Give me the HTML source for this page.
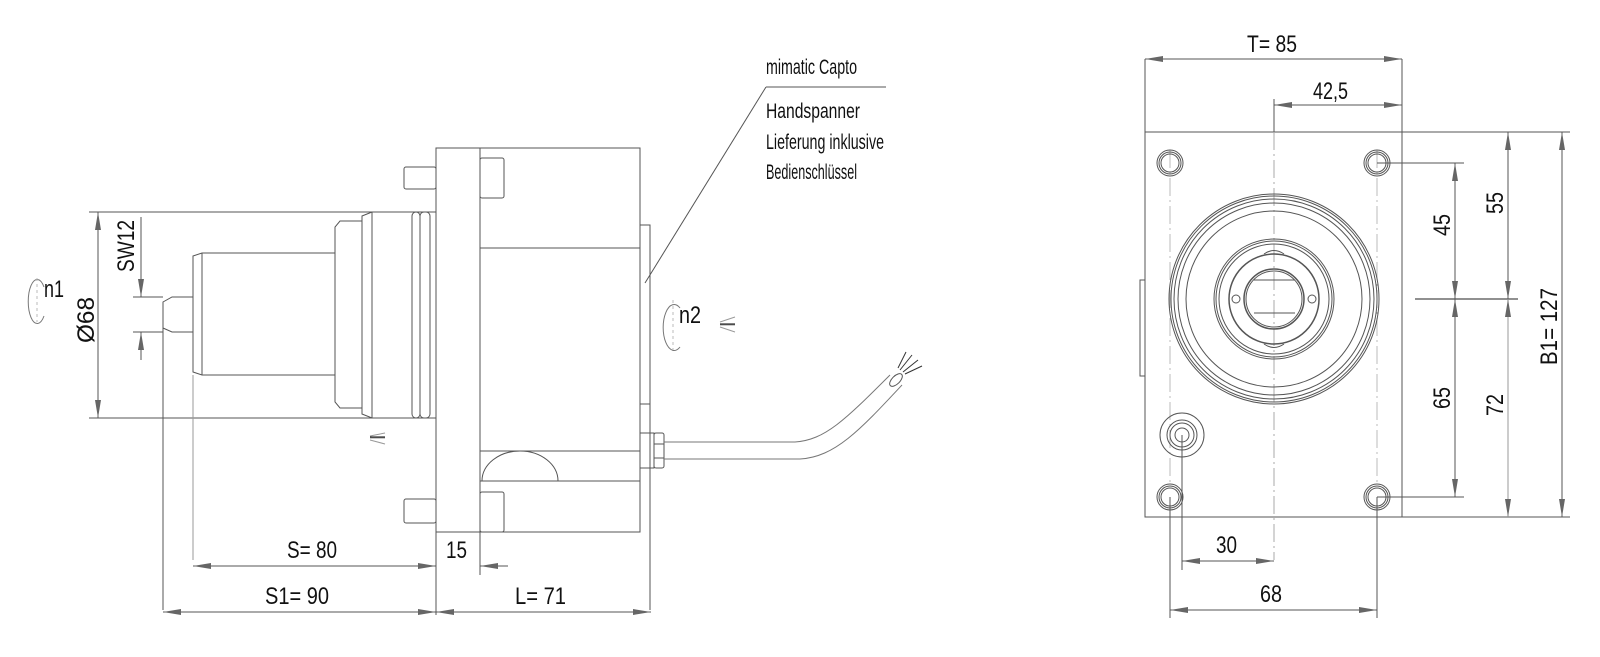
<!DOCTYPE html>
<html><head><meta charset="utf-8"><style>html,body{margin:0;padding:0;background:#fff}svg{display:block}</style></head>
<body>
<svg width="1600" height="657" viewBox="0 0 1600 657" xmlns="http://www.w3.org/2000/svg" font-family="Liberation Sans, sans-serif" fill="none" stroke="#555" stroke-width="1">
<defs>
<marker id="a" viewBox="0 0 18 6" refX="18" refY="3" markerWidth="18" markerHeight="6" markerUnits="userSpaceOnUse" orient="auto-start-reverse"><path d="M0,0 L18,3 L0,6z" fill="#666" stroke="none"/></marker>
</defs>
<g>
<rect x="436" y="148" width="204" height="384"/>
<line x1="480" y1="148" x2="480" y2="532"/>
<line x1="480" y1="248" x2="640" y2="248"/>
<line x1="480" y1="451" x2="640" y2="451"/>
<line x1="480" y1="481" x2="640" y2="481"/>
<path d="M482,481 A38,30 0 0 1 558,481"/>
<rect x="480" y="158" width="24" height="40" rx="2"/>
<rect x="480" y="492" width="24" height="40" rx="2"/>
<rect x="404" y="167" width="32" height="22" rx="2"/>
<rect x="404" y="499" width="32" height="24" rx="2"/>
<rect x="640" y="225" width="10" height="179"/>
<line x1="650" y1="225" x2="650" y2="610"/>
<path d="M436,212 L372,212 L362,216 L362,414 L372,418 L436,418"/>
<line x1="372" y1="212" x2="372" y2="418"/>
<rect x="412" y="212" width="8" height="206" rx="4"/>
<rect x="420" y="212" width="10" height="206" rx="4"/>
<path d="M362,221 L340,221 L335,227 L335,402 L340,408 L362,408"/>
<path d="M335,253 L202,253 L193,256 L193,372 L202,375 L335,375"/>
<line x1="202" y1="253" x2="202" y2="375"/>
<path d="M193,297 L172,297 L163,302 L163,328 L172,332 L193,332"/>
<line x1="89" y1="212" x2="372" y2="212"/>
<line x1="89" y1="418" x2="436" y2="418"/>
<line x1="163" y1="302" x2="163" y2="610"/>
<line x1="193" y1="375" x2="193" y2="560" stroke="#999"/>
<line x1="133" y1="297" x2="163" y2="297"/>
<line x1="133" y1="332" x2="163" y2="332"/>
<line x1="436" y1="532" x2="436" y2="615"/>
<line x1="480" y1="532" x2="480" y2="575"/>
<line x1="98" y1="212" x2="98" y2="418" marker-start="url(#a)" marker-end="url(#a)"/>
<line x1="141" y1="217" x2="141" y2="297" marker-end="url(#a)"/>
<line x1="141" y1="360" x2="141" y2="332" marker-end="url(#a)"/>
<line x1="193" y1="566" x2="436" y2="566" marker-start="url(#a)" marker-end="url(#a)"/>
<line x1="508" y1="566" x2="480" y2="566" marker-end="url(#a)"/>
<line x1="163" y1="612" x2="436" y2="612" marker-start="url(#a)" marker-end="url(#a)"/>
<line x1="436" y1="612" x2="651" y2="612" marker-start="url(#a)" marker-end="url(#a)"/>
<rect x="640" y="433" width="14" height="35"/>
<rect x="654" y="433" width="10" height="35" rx="2"/>
<line x1="654" y1="444" x2="664" y2="444"/><line x1="654" y1="458" x2="664" y2="458"/>
<path d="M664,442 L795,442 C825,440 845,420 890,375" stroke="#777"/>
<path d="M664,459 L800,459 C835,457 860,430 902,385" stroke="#777"/>
<ellipse cx="896" cy="380" rx="8" ry="4" transform="rotate(-45 896 380)"/>
<g stroke="#333"><line x1="900" y1="370" x2="912" y2="355"/><line x1="903" y1="372" x2="918" y2="360"/><line x1="905" y1="374" x2="922" y2="366"/><line x1="898" y1="368" x2="906" y2="352"/></g>
<path d="M44,287 A9,22 0 1 0 44,316" stroke="#777"/>
<line x1="37" y1="278" x2="37" y2="322" stroke="#bbb" stroke-dasharray="3,3"/>
<path d="M680,308 A11,23 0 1 0 680,347" stroke="#777"/>
<line x1="673" y1="300" x2="673" y2="350" stroke="#bbb" stroke-dasharray="3,3"/>
<g stroke="#999"><line x1="370" y1="436" x2="385" y2="433"/><line x1="370" y1="438" x2="385" y2="438"/><line x1="370" y1="440" x2="385" y2="444"/><line x1="370" y1="437" x2="385" y2="437" stroke="#000"/></g>
<g stroke="#999"><line x1="720" y1="322" x2="735" y2="317"/><line x1="720" y1="325" x2="735" y2="325"/><line x1="720" y1="327" x2="735" y2="332"/><line x1="720" y1="324" x2="735" y2="324" stroke="#000"/></g>
<line x1="645" y1="283" x2="766" y2="87"/>
<line x1="766" y1="87" x2="886" y2="87"/>

<rect x="1145" y="132" width="257" height="385"/>
<line x1="1145" y1="59" x2="1145" y2="132"/>
<line x1="1402" y1="59" x2="1402" y2="132"/>
<line x1="1274" y1="99" x2="1274" y2="132"/>
<line x1="1274" y1="132" x2="1274" y2="560" stroke="#aaa" stroke-dasharray="18,4,2,4"/>
<line x1="1170" y1="150" x2="1170" y2="483" stroke="#bbb" stroke-dasharray="18,4,2,4"/>
<line x1="1377" y1="150" x2="1377" y2="483" stroke="#bbb" stroke-dasharray="18,4,2,4"/>
<path d="M1145,280 L1140,280 L1140,376 L1145,376"/>
<g>
<circle cx="1170" cy="163" r="13"/><circle cx="1170" cy="163" r="11"/><circle cx="1170" cy="163" r="9"/>
<circle cx="1377" cy="163" r="13"/><circle cx="1377" cy="163" r="11"/><circle cx="1377" cy="163" r="9"/>
<circle cx="1170" cy="497" r="13"/><circle cx="1170" cy="497" r="11"/><circle cx="1170" cy="497" r="9"/>
<circle cx="1377" cy="497" r="13"/><circle cx="1377" cy="497" r="11"/><circle cx="1377" cy="497" r="9"/>
<circle cx="1182" cy="435" r="22"/><circle cx="1182" cy="435" r="15"/><circle cx="1182" cy="435" r="12"/><circle cx="1182" cy="435" r="7"/>
<circle cx="1274" cy="299" r="105"/><circle cx="1274" cy="299" r="103"/><circle cx="1274" cy="299" r="100"/><circle cx="1274" cy="299" r="96"/><circle cx="1274" cy="299" r="88"/>
<circle cx="1274" cy="299" r="60"/><circle cx="1274" cy="299" r="58"/><circle cx="1274" cy="299" r="55"/><circle cx="1274" cy="299" r="45" stroke-width="1.5"/>
<circle cx="1274" cy="299" r="30" stroke-width="1.5"/><circle cx="1274" cy="299" r="28"/>
<circle cx="1236" cy="299" r="4"/><circle cx="1312" cy="299" r="4"/>
<line x1="1254" y1="280" x2="1295" y2="280"/><line x1="1254" y1="313" x2="1295" y2="313"/>
<path d="M1264,254 Q1274,247 1284,254"/><path d="M1264,344 Q1274,351 1284,344"/>
</g>
<line x1="1145" y1="59" x2="1402" y2="59" marker-start="url(#a)" marker-end="url(#a)"/>
<line x1="1274" y1="105" x2="1402" y2="105" marker-start="url(#a)" marker-end="url(#a)"/>
<line x1="1402" y1="132" x2="1570" y2="132"/>
<line x1="1402" y1="517" x2="1570" y2="517"/>
<line x1="1377" y1="163" x2="1464" y2="163"/>
<line x1="1377" y1="497" x2="1464" y2="497"/>
<line x1="1415" y1="299" x2="1518" y2="299" stroke="#222"/>
<line x1="1455" y1="163" x2="1455" y2="299" marker-start="url(#a)" marker-end="url(#a)"/>
<line x1="1455" y1="299" x2="1455" y2="497" marker-start="url(#a)" marker-end="url(#a)"/>
<line x1="1508" y1="132" x2="1508" y2="299" marker-start="url(#a)" marker-end="url(#a)"/>
<line x1="1508" y1="299" x2="1508" y2="517" marker-start="url(#a)" marker-end="url(#a)" stroke="#999"/>
<line x1="1562" y1="132" x2="1562" y2="517" marker-start="url(#a)" marker-end="url(#a)"/>
<line x1="1182" y1="435" x2="1182" y2="570"/>
<line x1="1170" y1="497" x2="1170" y2="618"/>
<line x1="1377" y1="497" x2="1377" y2="618"/>
<line x1="1182" y1="561" x2="1274" y2="561" marker-start="url(#a)" marker-end="url(#a)"/>
<line x1="1170" y1="610" x2="1377" y2="610" marker-start="url(#a)" marker-end="url(#a)"/>
</g>
<g fill="#111" stroke="none" font-size="24">
<text x="766" y="74" font-size="21" textLength="91" lengthAdjust="spacingAndGlyphs">mimatic Capto</text>
<text x="766" y="118" font-size="21" textLength="94" lengthAdjust="spacingAndGlyphs">Handspanner</text>
<text x="766" y="149" font-size="21" textLength="118" lengthAdjust="spacingAndGlyphs">Lieferung inklusive</text>
<text x="766" y="179" font-size="21" textLength="91" lengthAdjust="spacingAndGlyphs">Bedienschlüssel</text>
<text x="44" y="297" textLength="20" lengthAdjust="spacingAndGlyphs">n1</text>
<text x="679" y="323" textLength="22" lengthAdjust="spacingAndGlyphs">n2</text>
<text x="287" y="558" textLength="50" lengthAdjust="spacingAndGlyphs">S= 80</text>
<text x="446" y="558" textLength="21" lengthAdjust="spacingAndGlyphs">15</text>
<text x="265" y="604" textLength="64" lengthAdjust="spacingAndGlyphs">S1= 90</text>
<text x="515" y="604" textLength="51" lengthAdjust="spacingAndGlyphs">L= 71</text>
<text x="1247" y="52" textLength="50" lengthAdjust="spacingAndGlyphs">T= 85</text>
<text x="1313" y="99" textLength="35" lengthAdjust="spacingAndGlyphs">42,5</text>
<text x="1216" y="553" textLength="21" lengthAdjust="spacingAndGlyphs">30</text>
<text x="1260" y="602" textLength="22" lengthAdjust="spacingAndGlyphs">68</text>
<text transform="translate(134,272) rotate(-90)" textLength="52" lengthAdjust="spacingAndGlyphs">SW12</text>
<text transform="translate(94,343) rotate(-90)" textLength="46" lengthAdjust="spacingAndGlyphs">Ø68</text>
<text transform="translate(1450,236) rotate(-90)" textLength="22" lengthAdjust="spacingAndGlyphs">45</text>
<text transform="translate(1503,214) rotate(-90)" textLength="22" lengthAdjust="spacingAndGlyphs">55</text>
<text transform="translate(1450,409) rotate(-90)" textLength="22" lengthAdjust="spacingAndGlyphs">65</text>
<text transform="translate(1503,416) rotate(-90)" textLength="22" lengthAdjust="spacingAndGlyphs">72</text>
<text transform="translate(1557,365) rotate(-90)" textLength="77" lengthAdjust="spacingAndGlyphs">B1= 127</text>
</g>
</svg>
</body></html>
